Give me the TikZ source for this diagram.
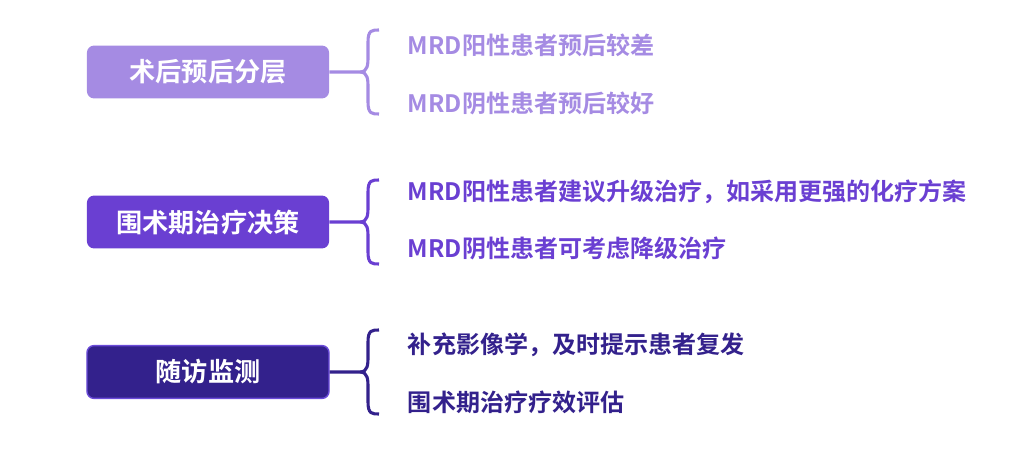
\documentclass[tikz,border=0pt]{standalone}
\usepackage{fontspec}
\newfontfamily\cjk{Noto Sans CJK SC}[BoldFont={Noto Sans CJK SC Bold}]
\usetikzlibrary{positioning}
\definecolor{lightp}{HTML}{A58BE3}
\definecolor{midp}{HTML}{6A3FD2}
\definecolor{darkp}{HTML}{33218C}
\definecolor{darkb}{HTML}{6A4BD8}
\tikzset{
  headbox/.style={rounded corners=5pt, minimum width=6.05cm, minimum height=1.32cm,
    text=white, font=\cjk\bfseries\fontsize{18.6}{21}\selectfont},
  itemtext/.style={anchor=west, font=\cjk\bfseries\fontsize{17.1}{20}\selectfont},
  bracket/.style={line width=2.2pt}
}
\newcommand{\bracepath}[4]{% color, node, center y, half height
  \draw[bracket, #1] (#2.east) -- (360,#3)
    .. controls (368,#3) and (368,#3-8) .. (368,#3-16) -- (368,#3-#4+12)
    .. controls (368,#3-#4) and (372,#3-#4) .. (379,#3-#4);
  \draw[bracket, #1] (360,#3)
    .. controls (368,#3) and (368,#3+8) .. (368,#3+16) -- (368,#3+#4-12)
    .. controls (368,#3+#4) and (372,#3+#4) .. (379,#3+#4);
}
\begin{document}
\begin{tikzpicture}[x=0.025cm, y=-0.025cm]
\useasboundingbox (0,0) rectangle (1029,452);

% Headings
\node[headbox, fill=lightp] (strat) at (208,72) {术后预后分层};
\node[headbox, fill=midp] (decide) at (208,222) {围术期治疗决策};
\node[headbox, fill=darkp, draw=darkb, line width=1pt] (follow) at (208,372) {随访监测};

% Braces
\bracepath{lightp}{strat}{72}{42}
\bracepath{midp}{decide}{222}{42}
\bracepath{darkp}{follow}{372}{42}

% Items
\node[itemtext, text=lightp] (s1) at (403,45) {MRD阳性患者预后较差};
\node[itemtext, text=lightp] (s2) at (403,103) {MRD阴性患者预后较好};
\node[itemtext, text=midp] (d1) at (403,192) {MRD阳性患者建议升级治疗，如采用更强的化疗方案};
\node[itemtext, text=midp] (d2) at (403,248) {MRD阴性患者可考虑降级治疗};
\node[itemtext, text=darkp] (f1) at (403,345) {补充影像学，及时提示患者复发};
\node[itemtext, text=darkp] (f2) at (403,402) {围术期治疗疗效评估};
\end{tikzpicture}
\end{document}
